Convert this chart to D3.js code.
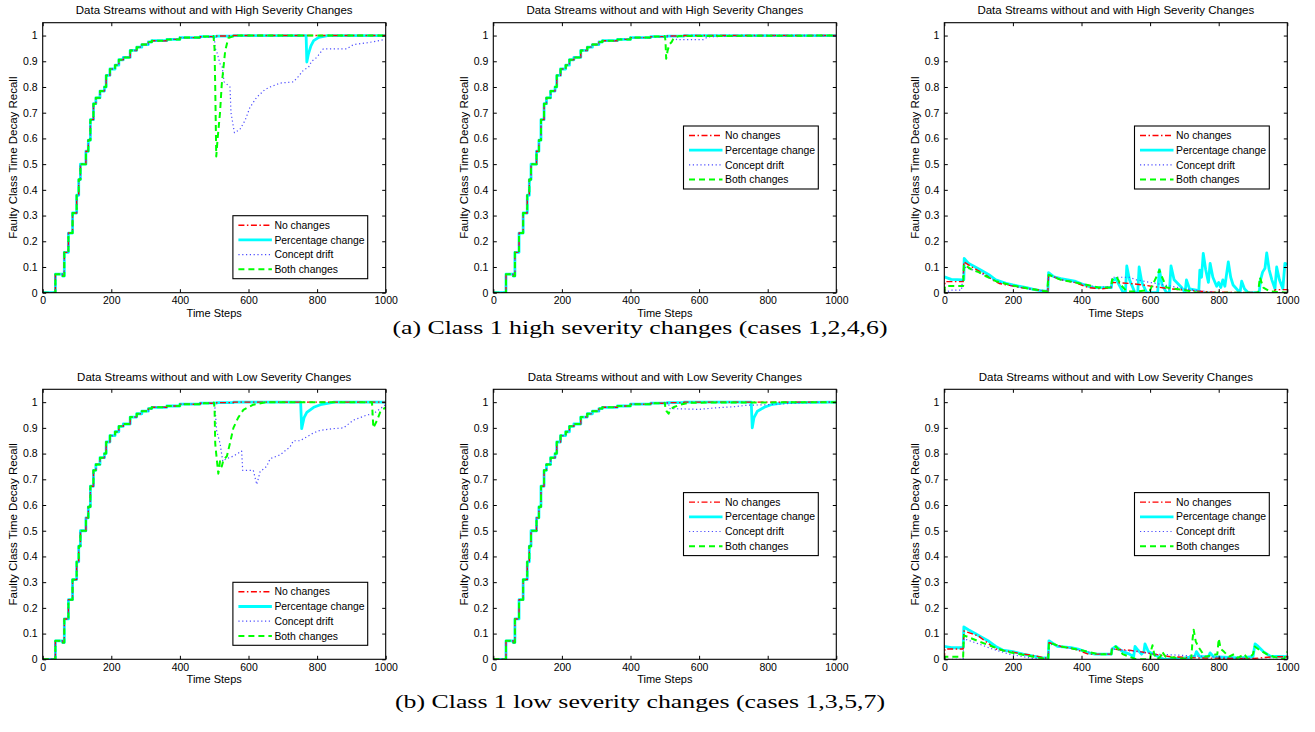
<!DOCTYPE html>
<html>
<head>
<meta charset="utf-8">
<script src="https://cdn.jsdelivr.net/npm/d3@7/dist/d3.min.js"></script>
<style>
  html, body { margin: 0; padding: 0; background: #fff; }
  svg { display: block; }
  text { font-family: "Liberation Sans", Arial, Helvetica, sans-serif; fill: #000; }
  .caption { font-family: "Liberation Serif", "Times New Roman", serif; }
</style>
</head>
<body>
<svg id="chart" width="1315" height="732"></svg>
<script>
// ---------------- DATA ----------------
const xTicks = [0, 200, 400, 600, 800, 1000];
const yTicks = [0, 0.1, 0.2, 0.3, 0.4, 0.5, 0.6, 0.7, 0.8, 0.9, 1];
const yTickLabels = ["0", "0.1", "0.2", "0.3", "0.4", "0.5", "0.6", "0.7", "0.8", "0.9", "1"];
const seriesNames = ["No changes", "Percentage change", "Concept drift", "Both changes"];
const titleHigh = "Data Streams without and with High Severity Changes";
const titleLow = "Data Streams without and with Low Severity Changes";
const yLabel = "Faulty Class Time Decay Recall";
const xLabel = "Time Steps";
const captionA = "(a) Class 1 high severity changes (cases 1,2,4,6)";
const captionB = "(b) Class 1 low severity changes (cases 1,3,5,7)";

// common stepwise rise of the recall (step-after points [time, recall])
const baseSteps = [[0,0],[37,0.072],[58,0.065],[63,0.157],[75,0.232],[87,0.31],[99,0.379],[105,0.44],[110,0.5],
  [126,0.55],[133,0.593],[139,0.673],[148,0.735],[155,0.758],[167,0.784],[180,0.8],[185,0.845],[196,0.87],
  [211,0.885],[222,0.906],[235,0.915],[255,0.942],[274,0.955],[289,0.965],[308,0.975],[318,0.98],[362,0.985],
  [400,0.992],[459,0.996],[507,0.998],[556,1.0],[1000,1.0]];

// Panel (a) left: deviations from the common rise
const a1Pct = [[768,1.0],[770,0.897],[775,0.93],[782,0.96],[790,0.98],[805,0.993],[830,1.0],[1000,1.0]];
const a1Drift = [[500,0.998],[503,0.95],[508,0.935],[517,0.89],[523,0.88],[529,0.82],[546,0.80],[549,0.70],[559,0.622],
  [575,0.635],[590,0.67],[604,0.72],[624,0.76],[648,0.79],[663,0.80],[692,0.815],[731,0.82],[745,0.84],[760,0.865],
  [775,0.877],[784,0.9],[799,0.915],[818,0.948],[886,0.948],[906,0.965],[947,0.972],[1000,0.985]];
const a1Both = [[498,0.998],[501,0.95],[503,0.8],[506,0.53],[510,0.6],[517,0.7],[522,0.81],[532,0.94],[541,0.99],[560,1.0],[1000,1.0]];

// Panel (a) middle
const a2Drift = [[525,0.999],[535,0.984],[612,0.984],[625,0.995],[700,0.998],[1000,1.0]];
const a2Both = [[500,0.998],[502,0.98],[504,0.91],[508,0.94],[513,0.965],[520,0.975],[526,0.99],[540,0.998],[1000,1.0]];

// Panel (a) right: full series
const a3No = [[0,0.0],[2,0.043],[55,0.043],[57,0.12],[80,0.10],[100,0.085],[120,0.07],[140,0.05],[160,0.036],[200,0.026],
  [240,0.016],[280,0.01],[302,0.005],[304,0.07],[340,0.05],[380,0.04],[420,0.02],[460,0.015],[486,0.02],[488,0.04],
  [540,0.036],[580,0.03],[620,0.022],[660,0.015],[700,0.01],[740,0.006],[790,0.002],[960,0.0],[965,0.012],[1000,0.012]];
const a3Pct = [[0,0.062],[20,0.052],[55,0.05],[57,0.05],[58,0.133],[70,0.115],[90,0.10],[110,0.085],[130,0.07],[150,0.05],
  [180,0.036],[200,0.03],[220,0.025],[240,0.02],[260,0.013],[280,0.008],[302,0.005],[304,0.078],[320,0.062],[340,0.055],
  [360,0.05],[380,0.045],[400,0.035],[420,0.025],[440,0.02],[487,0.02],[489,0.045],[500,0.055],[510,0.03],[522,0.0],
  [528,0.0],[532,0.104],[540,0.05],[556,0.0],[564,0.0],[568,0.10],[576,0.04],[590,0.0],[622,0.0],[627,0.09],[635,0.03],
  [648,0.0],[656,0.0],[661,0.104],[670,0.05],[692,0.02],[702,0.0],[706,0.05],[715,0.015],[742,0.008],[745,0.088],
  [750,0.06],[755,0.153],[762,0.09],[770,0.04],[775,0.114],[783,0.06],[794,0.025],[800,0.04],[806,0.02],[812,0.05],
  [818,0.025],[828,0.12],[835,0.06],[842,0.03],[862,0.0],[867,0.045],[875,0.015],[886,0.0],[918,0.0],[922,0.05],
  [928,0.08],[935,0.095],[940,0.155],[947,0.09],[955,0.05],[964,0.015],[969,0.10],[977,0.05],[987,0.015],[993,0.114],[1000,0.11]];
const a3Drift = [[0,0.0],[20,0.01],[50,0.01],[57,0.10],[80,0.09],[100,0.08],[120,0.065],[150,0.045],[200,0.025],[250,0.015],
  [300,0.005],[304,0.07],[340,0.05],[400,0.035],[450,0.02],[487,0.025],[489,0.06],[540,0.06],[560,0.05],[600,0.04],
  [650,0.028],[700,0.015],[760,0.005],[800,0.0],[1000,0.0]];
const a3Both = [[0,0.0],[2,0.026],[55,0.026],[57,0.11],[80,0.09],[100,0.08],[120,0.065],[150,0.045],[200,0.028],[250,0.015],
  [300,0.005],[304,0.07],[340,0.05],[400,0.035],[450,0.02],[487,0.02],[489,0.05],[502,0.062],[515,0.03],[532,0.005],
  [560,0.005],[600,0.01],[607,0.03],[618,0.06],[627,0.088],[635,0.06],[648,0.02],[700,0.01],[740,0.0],[915,0.0],
  [920,0.06],[930,0.02],[950,0.005],[1000,0.0]];

// Panel (b) left
const b1Pct = [[752,1.0],[755,0.897],[762,0.94],[770,0.96],[790,0.98],[810,0.99],[850,1.0],[1000,1.0]];
const b1Drift = [[500,0.999],[503,0.97],[507,0.89],[517,0.84],[525,0.77],[535,0.78],[556,0.79],[580,0.81],[583,0.735],
  [614,0.735],[624,0.68],[634,0.73],[653,0.75],[663,0.78],[692,0.795],[721,0.826],[731,0.85],[750,0.85],[770,0.865],
  [789,0.88],[808,0.89],[847,0.897],[877,0.9],[906,0.93],[945,0.95],[964,0.955],[1000,0.99]];
const b1Both = [[499,0.999],[501,0.98],[503,0.84],[505,0.81],[512,0.722],[517,0.77],[522,0.75],[527,0.775],[537,0.79],
  [546,0.84],[556,0.90],[570,0.94],[585,0.97],[614,0.99],[650,1.0],[960,1.0],[964,0.9],[975,0.93],[985,0.965],[1000,0.98]];

// Panel (b) middle
const b2Pct = [[752,1.0],[755,0.90],[760,0.94],[770,0.965],[790,0.98],[810,0.99],[850,0.998],[1000,1.0]];
const b2Drift = [[510,0.998],[515,0.975],[600,0.972],[650,0.978],[700,0.982],[740,0.988],[800,0.99],[900,0.998],[1000,1.0]];
const b2Both = [[500,0.998],[502,0.975],[505,0.965],[511,0.955],[516,0.97],[525,0.98],[545,0.99],[570,0.998],[1000,1.0]];

// Panel (b) right: full series
const b3No = [[0,0.0],[2,0.04],[55,0.04],[57,0.11],[80,0.1],[100,0.09],[120,0.07],[150,0.04],[190,0.03],[230,0.02],
  [260,0.015],[295,0.005],[303,0.005],[305,0.065],[340,0.05],[380,0.04],[420,0.02],[487,0.02],[489,0.04],[540,0.035],
  [570,0.03],[610,0.02],[660,0.01],[740,0.005],[900,0.003],[960,0.01],[1000,0.01]];
const b3Pct = [[0,0.05],[20,0.045],[55,0.045],[57,0.126],[70,0.115],[90,0.10],[110,0.085],[130,0.07],[150,0.05],[170,0.036],
  [200,0.03],[230,0.02],[260,0.012],[290,0.005],[303,0.005],[305,0.072],[330,0.05],[370,0.045],[390,0.04],[420,0.025],
  [440,0.02],[487,0.02],[489,0.04],[500,0.05],[520,0.03],[540,0.02],[552,0.01],[556,0.05],[565,0.035],[575,0.02],
  [582,0.03],[585,0.06],[595,0.03],[610,0.02],[640,0.0],[700,0.005],[730,0.01],[735,0.03],[745,0.01],[770,0.01],
  [775,0.025],[785,0.01],[860,0.005],[900,0.01],[906,0.06],[915,0.05],[930,0.03],[950,0.012],[1000,0.01]];
const b3Drift = [[0,0.0],[55,0.0],[57,0.08],[100,0.06],[140,0.04],[190,0.02],[230,0.01],[260,0.003],[303,0.0],[305,0.06],
  [340,0.05],[400,0.035],[450,0.02],[487,0.02],[489,0.04],[560,0.03],[620,0.02],[700,0.015],[780,0.01],[850,0.005],
  [900,0.0],[1000,0.0]];
const b3Both = [[0,0.0],[2,0.01],[55,0.01],[57,0.093],[100,0.07],[140,0.05],[180,0.03],[220,0.02],[260,0.01],[300,0.0],
  [303,0.0],[305,0.065],[340,0.05],[400,0.035],[450,0.02],[487,0.02],[489,0.045],[500,0.05],[520,0.02],[540,0.01],
  [560,0.0],[600,0.0],[604,0.04],[607,0.055],[612,0.02],[620,0.0],[630,0.01],[635,0.03],[645,0.01],[720,0.0],[724,0.08],
  [727,0.115],[733,0.07],[740,0.05],[760,0.01],[796,0.02],[800,0.08],[806,0.04],[815,0.03],[830,0.01],[845,0.02],
  [855,0.005],[875,0.02],[885,0.0],[900,0.02],[905,0.05],[915,0.04],[940,0.02],[960,0.01],[990,0.0],[1000,0.03]];

// ---------------- HELPERS ----------------
// turn step-after points into a polyline up to xEnd
function stepPoints(steps, xEnd) {
  const out = [];
  for (let i = 0; i < steps.length; i++) {
    const [x, y] = steps[i];
    if (x > xEnd) break;
    out.push([x, y]);
    const nx = i + 1 < steps.length ? steps[i + 1][0] : xEnd;
    out.push([Math.min(nx, xEnd), y]);
  }
  return out;
}
function withDeviation(dev) {
  return dev ? stepPoints(baseSteps, dev[0][0]).concat(dev) : stepPoints(baseSteps, 1000);
}

const styles = [
  { color: "#ff0000", width: 1.4, dash: "6,2.5,1.5,2.5" },   // No changes
  { color: "#00ffff", width: 2.8, dash: null },               // Percentage change
  { color: "#4a4aff", width: 1.2, dash: "1.2,2.6" },          // Concept drift
  { color: "#00ff00", width: 2.0, dash: "6,4" }               // Both changes
];
const drawOrder = [1, 0, 2, 3];

const panels = [
  { left: 42.7,  top: 22.7,  title: titleHigh, series: [withDeviation(null), withDeviation(a1Pct), withDeviation(a1Drift), withDeviation(a1Both)], legend: "bottom" },
  { left: 493.3, top: 22.7,  title: titleHigh, series: [withDeviation(null), withDeviation(null), withDeviation(a2Drift), withDeviation(a2Both)], legend: "middle" },
  { left: 944.3, top: 22.7,  title: titleHigh, series: [a3No, a3Pct, a3Drift, a3Both], legend: "middle" },
  { left: 42.7,  top: 389.3, title: titleLow,  series: [withDeviation(null), withDeviation(b1Pct), withDeviation(b1Drift), withDeviation(b1Both)], legend: "bottom" },
  { left: 493.3, top: 389.3, title: titleLow,  series: [withDeviation(null), withDeviation(b2Pct), withDeviation(b2Drift), withDeviation(b2Both)], legend: "middle" },
  { left: 944.3, top: 389.3, title: titleLow,  series: [b3No, b3Pct, b3Drift, b3Both], legend: "middle" }
];

const W = 343, H = 270;
const svg = d3.select("#chart");
const x = d3.scaleLinear().domain([0, 1000]).range([0, W]);
const y = d3.scaleLinear().domain([0, 1.05]).range([H, 0]);
const line = d3.line().x(d => x(d[0])).y(d => y(d[1]));

panels.forEach((p, pi) => {
  const g = svg.append("g").attr("transform", `translate(${p.left},${p.top})`);
  const clipId = "clip" + pi;
  g.append("clipPath").attr("id", clipId).append("rect").attr("width", W).attr("height", H);

  // series
  const lg = g.append("g").attr("clip-path", `url(#${clipId})`);
  drawOrder.forEach(si => {
    const s = styles[si];
    lg.append("path").datum(p.series[si])
      .attr("d", line).attr("fill", "none")
      .attr("stroke", s.color).attr("stroke-width", s.width)
      .attr("stroke-dasharray", s.dash)
      .attr("stroke-linejoin", "round");
  });

  // axes
  const tk = 3.5;
  const axB = g.append("g").attr("transform", `translate(0,${H})`)
    .call(d3.axisBottom(x).tickValues(xTicks).tickSize(-tk).tickPadding(4).tickFormat(d3.format("d")));
  const axT = g.append("g").call(d3.axisTop(x).tickValues(xTicks).tickSize(-tk).tickFormat(""));
  const axL = g.append("g").call(d3.axisLeft(y).tickValues(yTicks).tickSize(-tk).tickPadding(5)
    .tickFormat((d, i) => yTickLabels[i]));
  const axR = g.append("g").attr("transform", `translate(${W},0)`)
    .call(d3.axisRight(y).tickValues(yTicks).tickSize(-tk).tickFormat(""));
  [axB, axT, axL, axR].forEach(a => {
    a.select(".domain").remove();
    a.selectAll("line").attr("stroke", "#000").attr("stroke-width", 1);
    a.selectAll("text").style("font-size", "10.5px").attr("font-family", null);
  });
  g.append("rect").attr("width", W).attr("height", H).attr("fill", "none")
    .attr("stroke", "#000").attr("stroke-width", 1.1);

  // title and axis labels
  g.append("text").attr("x", W / 2).attr("y", -8.5).attr("text-anchor", "middle")
    .style("font-size", "11.5px").text(p.title);
  g.append("text").attr("transform", `translate(${-29.5},${H / 2}) rotate(-90)`)
    .attr("text-anchor", "middle").attr("dy", "0.35em").style("font-size", "11.5px").text(yLabel);
  g.append("text").attr("x", W / 2).attr("y", H + 24).attr("text-anchor", "middle")
    .style("font-size", "11px").text(xLabel);

  // legend
  const lw = 134.8, lh = 63;
  const lx = W - 18 - lw;
  const ly = p.legend === "bottom" ? H - 14 - lh : 103.3;
  const leg = g.append("g").attr("transform", `translate(${lx},${ly})`);
  leg.append("rect").attr("width", lw).attr("height", lh).attr("fill", "#fff")
    .attr("stroke", "#000").attr("stroke-width", 1.1);
  seriesNames.forEach((name, i) => {
    const s = styles[i];
    const ry = 9.5 + i * 14.7;
    leg.append("line").attr("x1", 5.5).attr("x2", 39).attr("y1", ry).attr("y2", ry)
      .attr("stroke", s.color).attr("stroke-width", s.width).attr("stroke-dasharray", s.dash);
    leg.append("text").attr("x", 41.5).attr("y", ry).attr("dy", "0.35em")
      .style("font-size", "10.4px").text(name);
  });
});

// captions (horizontally widened like the reference raster)
svg.append("text").attr("class", "caption").attr("x", 640).attr("y", 334).attr("text-anchor", "middle")
  .attr("textLength", 495).attr("lengthAdjust", "spacingAndGlyphs")
  .style("font-size", "18px").text(captionA);
svg.append("text").attr("class", "caption").attr("x", 640).attr("y", 708).attr("text-anchor", "middle")
  .attr("textLength", 490).attr("lengthAdjust", "spacingAndGlyphs")
  .style("font-size", "18px").text(captionB);
</script>
</body>
</html>
